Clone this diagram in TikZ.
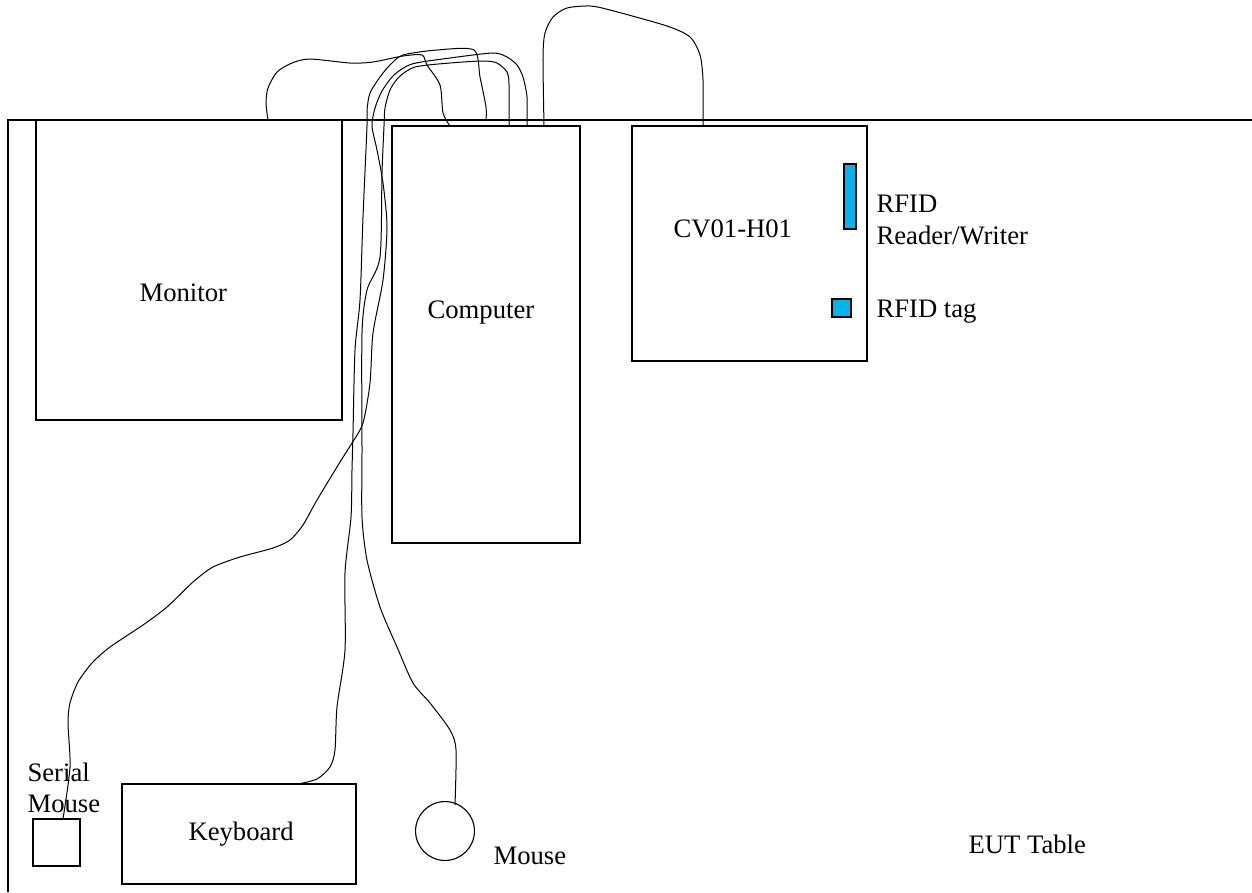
\documentclass[tikz,border=0pt]{standalone}
\usepackage{fontspec}
\setmainfont{Liberation Serif}
\usetikzlibrary{fit}
\definecolor{rfidblue}{RGB}{0,180,240}
\begin{document}
\begin{tikzpicture}[x=0.45pt,y=-0.45pt,line width=0.5pt,
  box/.style={draw,inner sep=0pt,fit={#1}},
  lbl/.style={inner sep=0pt,font=\fontsize{12}{14.2}\selectfont},
  cable/.style={line width=0.45pt}]
\useasboundingbox (0,0) rectangle (1252,892);
% table outline
\coordinate (tr) at (1252,120);
\coordinate (tl) at (8,120);
\coordinate (bl) at (8,892);
\draw (tr) -- (tl) -- (bl);
\node[lbl,anchor=base west] (eut) at (968,853) {EUT Table};
% equipment
\node[box={(36,120) (342,420)}] (mon) {};
\node[lbl,anchor=base west] (monl) at (139,301) {Monitor};
\node[box={(392,126) (580,543)}] (comp) {};
\node[lbl,anchor=base west] (compl) at (427,318) {Computer};
\node[box={(632,126) (867,361)}] (cv) {};
\node[lbl,anchor=base west] (cvl) at (673,237) {CV01-H01};
\node[box={(844,164) (856,229)},fill=rfidblue] (rw) {};
\node[box={(832,299) (851,317)},fill=rfidblue] (tag) {};
\node[lbl,anchor=west,align=left] (rwl) at (876,220) {RFID\\Reader/Writer};
\node[lbl,anchor=base west] (tagl) at (876,317) {RFID tag};
\node[box={(122,784) (356,884)}] (kb) {};
\node[lbl,anchor=base west] (kbl) at (188,840) {Keyboard};
\node[box={(33,819) (80,866)}] (sm) {};
\node[lbl,anchor=west,align=left] (sml) at (27,788) {Serial\\Mouse};
\node[draw,circle,inner sep=0pt,minimum size=26.5pt] (ms) at (445,831) {};
\node[lbl,anchor=base west] (msl) at (493,864) {Mouse};
% cable ports
\coordinate (pMon) at (268,120);
\coordinate (pCompMon) at (450,126);
\coordinate (pCompRF) at (544,126);
\coordinate (pCV) at (703,126);
\coordinate (pKb) at (298,784);
\coordinate (pTabKb) at (486,120);
\coordinate (pSm) at (63,819);
\coordinate (pCompSm) at (527,126);
\coordinate (pMs) at (455,805);
\coordinate (pCompMs) at (509,126);
% monitor cable
\draw[cable] plot[smooth,tension=0.45] coordinates {(pMon) (266,103) (268,88) (277,72) (292,63) (310,59) (350,63) (373,62) (403,56) (422,55) (427,65) (440,85) (443,113) (pCompMon)};
% RFID cable
\draw[cable] plot[smooth,tension=0.45] coordinates {(pCompRF) (543,57) (545,33) (553,17) (567,8) (590,6) (610,10) (667,26) (690,37) (700,55) (703,80) (pCV)};
% keyboard cable
\draw[cable] plot[smooth,tension=0.45] coordinates {(pKb) (317,779) (330,767) (335,750) (337,707) (345,650) (345,573) (351,517) (352,470) (353,433) (355,350) (360,300) (363,217) (367,126) (367,110) (370,93) (380,77) (390,65) (403,55) (437,50) (474,50) (480,77) (486,107) (pTabKb)};
% serial mouse cable
\draw[cable] plot[smooth,tension=0.45] coordinates {(pSm) (70,767) (68,723) (70,703) (78,682) (92,663) (110,647) (143,625) (167,607) (193,582) (213,567) (240,557) (273,548) (290,540) (303,525) (317,500) (340,462) (352,443) (363,423) (370,383) (373,333) (383,280) (387,227) (383,183) (377,150) (372,126) (375,108) (382,91) (394,75) (412,64) (450,58) (493,53) (507,57) (517,65) (523,77) (527,97) (pCompSm)};
% mouse cable
\draw[cable] plot[smooth,tension=0.45] coordinates {(pMs) (456,750) (450,730) (430,703) (413,683) (397,647) (380,607) (367,560) (362,517) (362,450) (362,333) (367,290) (380,257) (382,173) (384,126) (385,108) (390,90) (399,77) (415,67) (450,63) (483,61) (497,63) (507,72) (509,84) (pCompMs)};
\end{tikzpicture}
\end{document}
